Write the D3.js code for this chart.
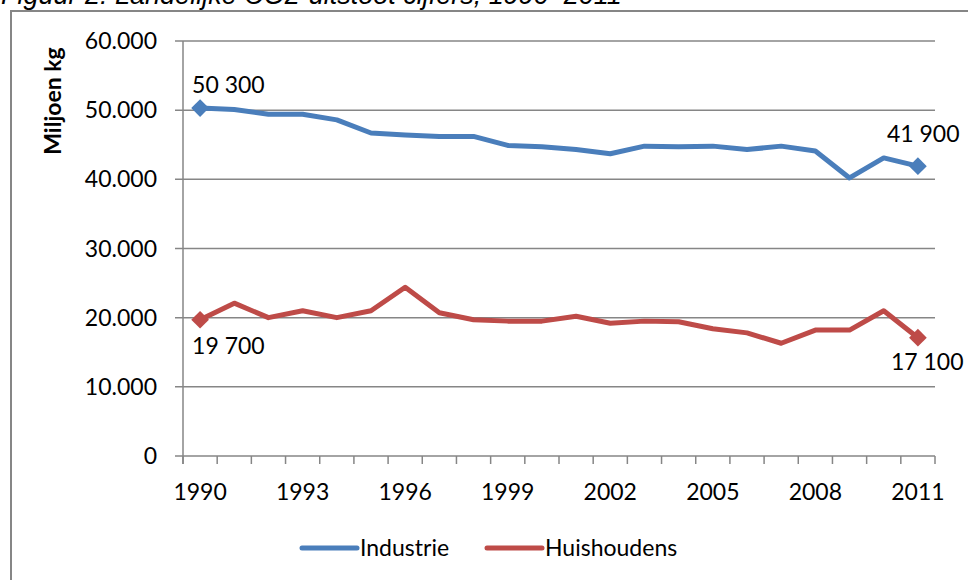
<!DOCTYPE html>
<html>
<head>
<meta charset="utf-8">
<script src="https://cdn.jsdelivr.net/npm/d3@7"></script>
<style>
  body { margin: 0; background: #fff; }
  svg { display: block; }
  text { font-family: Lato, "Open Sans", sans-serif; fill: #000; }
</style>
</head>
<body>
<div id="chart"></div>
<script>
// years on the x axis
var years = [1990, 1991, 1992, 1993, 1994, 1995, 1996, 1997, 1998, 1999, 2000,
             2001, 2002, 2003, 2004, 2005, 2006, 2007, 2008, 2009, 2010, 2011];
var yearLabels = [1990, 1993, 1996, 1999, 2002, 2005, 2008, 2011];

// miljoen kg CO2
var industrie = [50300, 50100, 49400, 49400, 48600, 46700, 46400, 46200, 46200, 44900, 44700,
                 44300, 43700, 44800, 44700, 44800, 44300, 44800, 44100, 40200, 43100, 41900];
var huishoudens = [19700, 22100, 20000, 21000, 20000, 21000, 24400, 20700, 19700, 19500, 19500,
                   20200, 19200, 19500, 19400, 18400, 17800, 16300, 18200, 18200, 21000, 17100];
var yTicks = [0, 10000, 20000, 30000, 40000, 50000, 60000];

var seriesNames = ['Industrie', 'Huishoudens'];
var colors = ['#4a7ebb', '#be4b48'];

var width = 968, height = 580;

var svg = d3.select('#chart').append('svg')
    .attr('width', width)
    .attr('height', height);

// outer frame of the chart
svg.append('rect')
    .attr('x', 11).attr('y', 11)
    .attr('width', width + 20).attr('height', height + 20)
    .style('fill', '#fff')
    .style('stroke', '#868686')
    .style('stroke-width', 2);

// title, mostly cut off at the top (as in the source)
svg.append('text')
    .attr('x', 1).attr('y', 4)
    .style('font-family', '"Liberation Sans", Arial, sans-serif')
    .style('font-style', 'italic')
    .style('font-size', '27px')
    .text('Figuur 2: Landelijke CO2-uitstoot cijfers, 1990–2011');

var x = d3.scaleBand().domain(years).range([183, 935]);
var y = d3.scaleLinear().domain([0, 60000]).range([456, 41]);
var cx = d => x(d) + x.bandwidth() / 2;

var nl = d3.formatLocale({decimal: ',', thousands: '.', grouping: [3], currency: ['', '']});
var lbl = d3.formatLocale({decimal: ',', thousands: ' ', grouping: [3], currency: ['', '']});
var yFmt = nl.format(',d');
var labelFmt = lbl.format(',d');

// gridlines + y ticks
svg.append('g').selectAll('line')
    .data(yTicks)
    .enter().append('line')
    .attr('x1', 175).attr('x2', 935)
    .attr('y1', d => y(d)).attr('y2', d => y(d))
    .style('stroke', '#868686')
    .style('stroke-width', 1.5);

svg.append('g').selectAll('text')
    .data(yTicks)
    .enter().append('text')
    .attr('x', 157)
    .attr('y', d => y(d))
    .attr('dy', '0.35em')
    .attr('text-anchor', 'end')
    .style('font-size', '23px')
    .text(d => yFmt(d));

// y axis line
svg.append('line')
    .attr('x1', 183).attr('x2', 183)
    .attr('y1', y(60000)).attr('y2', 464)
    .style('stroke', '#868686')
    .style('stroke-width', 1.5);

// x ticks at category edges
var edges = years.map(d => x(d)).concat([x.range()[1]]);
svg.append('g').selectAll('line')
    .data(edges)
    .enter().append('line')
    .attr('x1', d => d).attr('x2', d => d)
    .attr('y1', 456).attr('y2', 464)
    .style('stroke', '#868686')
    .style('stroke-width', 1.5);

svg.append('g').selectAll('text')
    .data(yearLabels)
    .enter().append('text')
    .attr('x', d => cx(d))
    .attr('y', 500)
    .attr('text-anchor', 'middle')
    .style('font-size', '23px')
    .text(d => d);

// y axis title
svg.append('text')
    .attr('transform', 'translate(61,101) rotate(-90)')
    .attr('text-anchor', 'middle')
    .style('font-size', '23px')
    .style('font-weight', 'bold')
    .text('Miljoen kg');

// lines
var line = d3.line()
    .x((d, i) => cx(years[i]))
    .y(d => y(d));

[industrie, huishoudens].forEach(function(vals, s) {
    svg.append('path')
        .attr('d', line(vals))
        .style('fill', 'none')
        .style('stroke', colors[s])
        .style('stroke-width', 5)
        .style('stroke-linejoin', 'round');

    // diamond markers on first and last point
    [0, vals.length - 1].forEach(function(i) {
        svg.append('path')
            .attr('d', d3.symbol().type(d3.symbolDiamond2).size(200)())
            .attr('transform', 'translate(' + cx(years[i]) + ',' + y(vals[i]) + ')')
            .style('fill', colors[s]);
    });
});

// data labels: [series, index, dx, dy]
var labelPos = [
    [0, 0, -8, -15],
    [0, industrie.length - 1, -31, -24],
    [1, 0, -8, 34],
    [1, huishoudens.length - 1, -27, 32]
];
var allSeries = [industrie, huishoudens];
svg.append('g').selectAll('text')
    .data(labelPos)
    .enter().append('text')
    .attr('x', d => cx(years[d[1]]) + d[2])
    .attr('y', d => y(allSeries[d[0]][d[1]]) + d[3])
    .style('font-size', '23px')
    .text(d => labelFmt(allSeries[d[0]][d[1]]));

// legend
var legendX = [302, 487];
var leg = svg.append('g').selectAll('g')
    .data(seriesNames)
    .enter().append('g')
    .attr('transform', (d, i) => 'translate(' + legendX[i] + ',548)');

leg.append('line')
    .attr('x1', 0).attr('x2', 55)
    .style('stroke', (d, i) => colors[i])
    .style('stroke-width', 5)
    .style('stroke-linecap', 'round');

leg.append('text')
    .attr('x', 58)
    .attr('dy', '0.35em')
    .style('font-size', '23px')
    .text(d => d);
</script>
</body>
</html>
